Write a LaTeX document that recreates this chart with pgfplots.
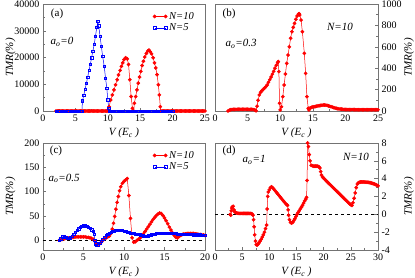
\documentclass[border=0pt]{standalone}
\usepackage{fontspec}
\setmainfont{Liberation Serif}
\usepackage{pgfplots}
\pgfplotsset{compat=1.18}
\tikzset{txt/.style={font=\fontsize{11}{12}\selectfont\itshape}}
\pgfplotsset{
 panel/.style={
  scale only axis, height=107pt,
  axis line style={black!55, line width=0.6pt},
  tick style={black!55, line width=0.5pt},
  tick align=inside, xtick pos=bottom,
  minor x tick num=1, minor y tick num=1,
  major tick length=3.5pt, minor tick length=2pt,
  tick label style={font=\fontsize{10}{11}\selectfont},
  label style={font=\fontsize{11}{12}\selectfont\itshape},
  /pgf/number format/assume math mode=true,
  scaled ticks=false,
  /pgf/number format/fixed, /pgf/number format/1000 sep={},
  xlabel={V (E\textsubscript{c} )},
  ylabel={TMR(\%)},
  clip=false,
  legend cell align=left,
  legend style={draw=none, fill=none, font=\fontsize{10.5}{11}\selectfont\itshape, at={(1,1)}, anchor=north east, xshift=-8pt, yshift=-5pt, row sep=-1pt, inner sep=1pt},
  legend image code/.code={\draw[#1] plot coordinates {(0pt,0pt) (11pt,0pt)};},
 },
 leftpanel/.style={panel, width=162pt, ytick pos=left,
  every axis y label/.style={at={(axis description cs:-0.2,0.5)}, rotate=90, anchor=center, font=\fontsize{11}{12}\selectfont\itshape}},
 rightpanel/.style={panel, width=163pt, ytick pos=right, yticklabel pos=right,
  every axis y label/.style={at={(axis description cs:1.19,0.5)}, rotate=90, anchor=center, font=\fontsize{11}{12}\selectfont\itshape}},
 redl/.style={red, line width=0.5pt, mark=*, mark size=1.6pt, mark options={solid}},
 bluel/.style={blue, line width=0.5pt, mark=square, mark size=1.2pt, mark options={solid}},
}
\begin{document}
\begin{tikzpicture}
\path[use as bounding box] (0,0) rectangle (415pt,-278pt);
% (a)
\begin{axis}[leftpanel, at={(43pt,-111pt)}, anchor=south west,
  xmin=0, xmax=25, ymin=0, ymax=40000, xtick={0,5,...,25}, ytick={0,10000,...,40000}]
\addplot[redl] coordinates {(2.0,0)(2.2,0)(2.4,0)(2.6,0)(2.8,0)(3.0,0)(3.2,0)(3.4,0)(3.6,0)(3.8,0)(4.0,0)(4.2,0)(4.4,0)(4.6,0)(4.8,0)(5.0,0)(5.2,0)(5.4,0)(5.6,0)(5.8,0)(6.0,0)(6.2,0)(6.4,0)(6.6,0)(6.8,0)(7.0,0)(7.2,0)(7.4,0)(7.6,0)(7.8,0)(8.0,0)(8.2,0)(8.4,0)(8.6,0)(8.8,0)(9.0,0)(9.2,0)(9.4,0)(9.6,0)(9.8,0)(10.0,0)
(10.2,1600)(10.45,4100)(10.7,6000)(10.95,7900)(11.2,9800)(11.45,11700)(11.65,13500)(11.9,15200)(12.1,16700)(12.3,18000)(12.5,19200)(12.75,19900)(13.0,19500)(13.2,17400)(13.4,11700)(13.6,5400)(13.8,1000)(14.0,0)
(14.1,2900)(14.3,5400)(14.5,7900)(14.7,10400)(14.9,12700)(15.1,14800)(15.3,17000)(15.5,18600)(15.7,20200)(15.95,21500)(16.15,22400)(16.35,22750)(16.55,22150)(16.75,21400)(17.0,19900)(17.2,18000)(17.4,16100)(17.6,13600)(17.8,9800)(17.95,6000)(18.1,1600)(18.2,0)
(18.4,0)(18.6,0)(18.8,0)(19.0,0)(19.2,0)(19.4,0)(19.6,0)(19.8,0)(20.0,0)(20.2,0)(20.4,0)(20.6,0)(20.8,0)(21.0,0)(21.2,0)(21.4,0)(21.6,0)(21.8,0)(22.0,0)(22.2,0)(22.4,0)(22.6,0)(22.8,0)(23.0,0)(23.2,0)(23.4,0)(23.6,0)(23.8,0)(24.0,0)(24.2,0)(24.4,0)(24.6,0)(24.8,0)(25.0,0)};
\addlegendentry{N=10}
\addplot[bluel] coordinates {(2.0,0)(2.2,0)(2.4,0)(2.6,0)(2.8,0)(3.0,0)(3.2,0)(3.4,0)(3.6,0)(3.8,0)(4.0,0)(4.2,0)(4.4,0)(4.6,0)(4.8,0)(5.0,0)(5.2,0)(5.4,0)(5.6,0)(5.8,0)(6.0,0)
(6.1,3800)(6.3,6000)(6.5,8200)(6.7,10400)(6.9,12700)(7.1,15200)(7.3,17400)(7.5,19900)(7.7,22400)(7.9,24900)(8.1,28000)(8.3,31200)(8.45,33500)(8.6,31800)(8.8,28000)(9.0,24300)(9.2,20500)(9.45,16700)(9.65,12300)(9.85,8500)(10.0,4200)(10.15,1000)(10.3,0)
(10.4,0)(10.6,0)(10.8,0)(11.0,0)(11.2,0)(11.4,0)(11.6,0)(11.8,0)(12.0,0)(12.2,0)(12.4,0)(12.6,0)(12.8,0)(13.0,0)(13.2,0)(13.4,0)(13.6,0)(13.8,0)(14.0,0)(14.2,0)(14.4,0)(14.6,0)(14.8,0)(15.0,0)(15.2,0)(15.4,0)(15.6,0)(15.8,0)(16.0,0)(16.2,0)(16.4,0)(16.6,0)(16.8,0)(17.0,0)(17.2,0)(17.4,0)(17.6,0)(17.8,0)(18.0,0)(18.2,0)(18.4,0)(18.6,0)(18.8,0)(19.0,0)(19.2,0)(19.4,0)(19.6,0)(19.8,0)(20.0,0)};
\addlegendentry{N=5}
\node[font=\fontsize{11}{12}\selectfont] at (rel axis cs:0.087,0.906) {(a)};
\node[txt] at (rel axis cs:0.117,0.645) {a\textsubscript{o}=0};
\end{axis}
% (b)
\begin{axis}[rightpanel, at={(215pt,-111pt)}, anchor=south west,
  xmin=0, xmax=25, ymin=0, ymax=1000, xtick={0,5,...,25}, ytick={0,200,...,1000}]
\addplot[redl] coordinates {(2.0,0)(2.2,8)(2.4,12)(2.6,14)(2.8,15)(3.0,15)(3.2,15)(3.4,16)(3.6,16)(3.8,16)(4.0,16)(4.2,16)(4.4,16)(4.6,16)(4.8,16)(5.0,16)(5.2,15)(5.4,15)(5.6,15)(5.8,14)(6.0,12)(6.2,6)(6.3,2)(6.45,45)(6.6,100)(6.8,150)(7.0,175)(7.2,190)(7.4,202)(7.6,215)(7.8,228)(8.0,243)(8.2,268)(8.4,292)(8.6,318)(8.8,345)(9.0,371)(9.2,400)(9.4,428)(9.6,452)(9.7,462)(9.8,368)(9.9,72)(10.0,10)(10.2,40)(10.4,134)(10.6,243)(10.8,346)(11.0,445)(11.2,523)(11.4,600)(11.6,680)(11.8,741)(12.0,782)(12.2,819)(12.4,857)(12.6,888)(12.8,906)(12.9,910)(13.0,897)(13.2,850)(13.4,741)(13.7,539)(13.9,352)(14.1,134)(14.3,25)(14.4,10)(14.6,28)(14.8,34)(15.0,38)(15.2,40)(15.4,42)(15.6,45)(15.8,48)(16.0,50)(16.2,52)(16.4,54)(16.6,56)(16.8,56)(17.0,55)(17.2,52)(17.4,48)(17.6,44)(17.8,40)(18.0,36)(18.2,32)(18.4,28)(18.6,25)(18.8,22)(19.0,20)(19.2,18)(19.4,17)(19.6,16)(19.8,15)(20.0,14)(20.2,14)(20.4,13)(20.6,13)(20.8,13)(21.0,13)(21.2,13)(21.4,13)(21.6,12)(21.8,12)(22.0,12)(22.2,12)(22.4,12)(22.6,12)(22.8,12)(23.0,12)(23.2,12)(23.4,12)(23.6,12)(23.8,12)(24.0,12)(24.2,12)(24.4,12)(24.6,12)(24.8,12)(25.0,12)};
\node[font=\fontsize{11}{12}\selectfont] at (rel axis cs:0.086,0.906) {(b)};
\node[txt] at (rel axis cs:0.16,0.626) {a\textsubscript{o}=0.3};
\node[txt] at (rel axis cs:0.767,0.785) {N=10};
\end{axis}
% (c)
\begin{axis}[leftpanel, at={(43pt,-250pt)}, anchor=south west,
  xmin=0, xmax=20, ymin=-20, ymax=200, xtick={0,5,...,20}, ytick={0,50,...,200}]
\addplot[black, dashed, line width=0.6pt, forget plot] coordinates {(0,0)(20,0)};
\addplot[redl] coordinates {(2.0,0)(2.2,1)(2.4,2)(2.6,3)(2.8,4)(3.0,4)(3.2,5)(3.4,5)(3.6,6)(3.8,6)(4.0,7)(4.2,7)(4.4,7)(4.6,7)(4.8,7)(5.0,7)(5.2,7)(5.4,6)(5.6,6)(5.8,5)(6.0,4)(6.2,2)(6.4,-2)(6.6,-7)(6.8,-8)(7.0,-7)(7.2,-4)(7.4,0)(7.6,3)(7.8,5)(8.0,7)(8.2,9)(8.4,14)(8.55,23)(8.7,35)(8.85,49)(9.0,64)(9.15,78)(9.3,90)(9.45,102)(9.6,110)(9.8,117)(10.0,121)(10.2,124)(10.4,127)(10.6,92)(10.8,45)(11.0,5)(11.2,-4)(11.4,-3)(11.6,0)(11.8,2)(12.0,5)(12.2,8)(12.4,13)(12.6,18)(12.8,23)(13.0,28)(13.2,33)(13.4,38)(13.6,43)(13.8,47)(14.0,51)(14.2,54)(14.4,56)(14.6,55)(14.8,51)(15.0,46)(15.2,40)(15.4,34)(15.6,27)(15.8,21)(16.0,15)(16.2,10)(16.4,6)(16.6,5)(16.8,8)(17.0,10)(17.2,12)(17.4,13)(17.6,13)(17.8,14)(18.0,14)(18.2,14)(18.4,14)(18.6,14)(18.8,13)(19.0,13)(19.2,12)(19.4,12)(19.6,11)(19.8,11)(20.0,10)};
\addlegendentry{N=10}
\addplot[bluel] coordinates {(2.0,0)(2.2,3)(2.4,7)(2.6,8)(2.8,6)(3.0,4)(3.2,4)(3.4,5)(3.6,8)(3.8,12)(4.0,16)(4.2,20)(4.4,24)(4.6,27)(4.8,29)(5.0,30)(5.2,30)(5.4,29)(5.6,27)(5.8,25)(6.0,22)(6.2,18)(6.3,12)(6.4,0)(6.5,-7)(6.6,-10)(6.8,-9)(7.0,-6)(7.2,-2)(7.4,2)(7.6,6)(7.8,10)(8.0,13)(8.2,15)(8.4,17)(8.6,18)(8.8,19)(9.0,20)(9.2,20)(9.4,21)(9.6,20)(9.8,20)(10.0,19)(10.2,18)(10.4,17)(10.6,16)(10.8,15)(11.0,14)(11.2,14)(11.4,13)(11.6,12)(11.8,12)(12.0,11)(12.2,10)(12.4,9)(12.6,8)(12.8,8)(13.0,9)(13.2,10)(13.4,11)(13.6,12)(13.8,13)(14.0,14)(14.2,14)(14.4,15)(14.6,15)(14.8,15)(15.0,15)(15.2,15)(15.4,15)(15.6,14)(15.8,14)(16.0,14)(16.2,14)(16.4,14)(16.6,13)(16.8,13)(17.0,13)(17.2,13)(17.4,13)(17.6,12)(17.8,12)(18.0,12)(18.2,12)(18.4,12)(18.6,11)(18.8,11)(19.0,11)(19.2,11)(19.4,11)(19.6,10)(19.8,10)(20.0,10)};
\addlegendentry{N=5}
\node[font=\fontsize{11}{12}\selectfont] at (rel axis cs:0.08,0.925) {(c)};
\node[txt] at (rel axis cs:0.13,0.67) {a\textsubscript{o}=0.5};
\end{axis}
% (d)
\begin{axis}[rightpanel, at={(215pt,-250pt)}, anchor=south west,
  xmin=0, xmax=30, ymin=-4, ymax=8, xtick={0,5,...,30}, ytick={-4,-2,...,8}]
\addplot[black, dashed, line width=0.6pt, forget plot] coordinates {(0,0)(30,0)};
\addplot[redl] coordinates {(2.8,0)(2.9,-0.1)(3.0,0.4)(3.1,0.7)(3.2,0.85)(3.35,0.9)(3.5,0.5)(3.6,0.3)(3.8,0.2)(4.0,0.15)(4.2,0.12)(4.4,0.1)(4.6,0.1)(4.8,0.1)(5.0,0.1)(5.2,0.1)(5.4,0.1)(5.6,0.1)(5.8,0.1)(6.0,0.1)(6.2,0.1)(6.4,0.1)(6.6,0.1)(6.8,0.05)(7.0,-0.1)(7.1,-0.6)(7.2,-1.4)(7.3,-2.3)(7.45,-3.0)(7.6,-3.4)(7.75,-3.45)(7.9,-3.35)(8.1,-3.2)(8.3,-3.0)(8.5,-2.8)(8.7,-2.55)(8.9,-2.3)(9.1,-2.0)(9.3,-1.6)(9.5,-1.2)(9.6,0.6)(9.7,2.0)(9.8,2.5)(10.0,2.75)(10.2,3.0)(10.4,3.08)(10.6,3.0)(10.8,2.85)(11.0,2.7)(11.2,2.55)(11.4,2.4)(11.6,2.25)(11.8,2.1)(12.0,1.95)(12.2,1.8)(12.4,1.65)(12.6,1.5)(12.8,1.35)(13.0,1.2)(13.2,1.1)(13.35,1.0)(13.45,0.5)(13.55,-0.1)(13.7,-0.6)(13.9,-0.9)(14.1,-0.98)(14.3,-0.9)(14.5,-0.7)(14.7,-0.5)(14.9,-0.25)(15.1,0.0)(15.3,0.2)(15.5,0.4)(15.7,0.6)(15.9,0.8)(16.1,1.0)(16.3,1.25)(16.5,1.5)(16.7,1.7)(16.85,1.9)(16.95,3.8)(17.05,8.0)(17.2,7.6)(17.35,6.7)(17.5,6.0)(17.7,5.5)(17.9,5.45)(18.1,5.4)(18.3,5.4)(18.5,5.4)(18.7,5.4)(18.9,5.4)(19.1,5.35)(19.3,5.2)(19.45,4.8)(19.6,4.4)(19.8,4.2)(20.0,4.05)(20.2,3.93)(20.4,3.8)(20.6,3.68)(20.8,3.56)(21.0,3.44)(21.2,3.32)(21.4,3.2)(21.6,3.08)(21.8,2.96)(22.0,2.84)(22.2,2.72)(22.4,2.6)(22.6,2.48)(22.8,2.36)(23.0,2.24)(23.2,2.12)(23.4,2.0)(23.6,1.88)(23.8,1.76)(24.0,1.64)(24.2,1.52)(24.4,1.4)(24.6,1.28)(24.8,1.17)(25.0,1.07)(25.2,1.0)(25.4,1.3)(25.6,1.8)(25.8,2.4)(26.0,3.0)(26.2,3.4)(26.4,3.55)(26.6,3.6)(26.8,3.62)(27.0,3.63)(27.2,3.63)(27.4,3.63)(27.6,3.62)(27.8,3.6)(28.0,3.6)(28.2,3.58)(28.4,3.56)(28.6,3.54)(28.8,3.5)(29.0,3.47)(29.2,3.43)(29.4,3.39)(29.6,3.33)(29.8,3.27)(30.0,3.2)};
\node[font=\fontsize{11}{12}\selectfont] at (rel axis cs:0.086,0.925) {(d)};
\node[txt] at (rel axis cs:0.24,0.84) {a\textsubscript{o}=1};
\node[txt] at (rel axis cs:0.865,0.87) {N=10};
\end{axis}
\end{tikzpicture}
\end{document}
